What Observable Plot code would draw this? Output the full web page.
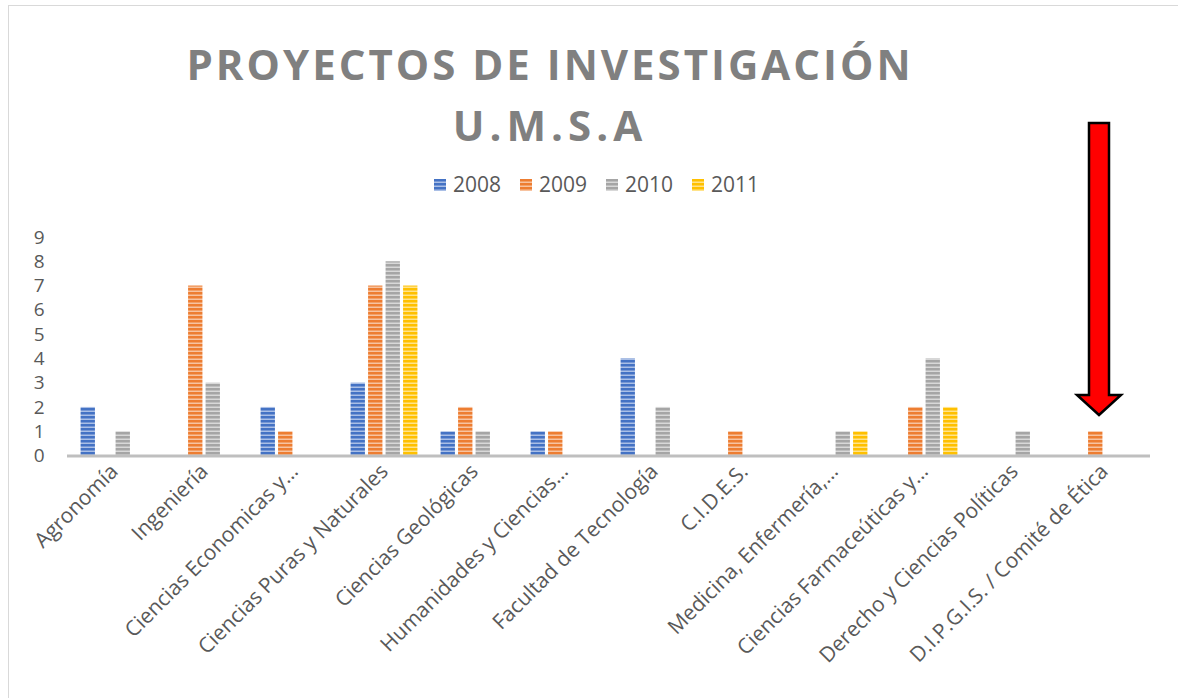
<!DOCTYPE html>
<html><head><meta charset="utf-8">
<script src="https://cdn.jsdelivr.net/npm/d3@7"></script>
<script src="https://cdn.jsdelivr.net/npm/@observablehq/plot@0.6"></script>
<style>
body{margin:0;background:#fff;font-family:"Open Sans",sans-serif;}
#wrap{position:relative;width:1178px;height:698px;overflow:hidden;background:#fff;}
#frame{position:absolute;left:8px;top:5px;width:1300px;height:800px;border:1.5px solid #d9d9d9;}
#title{position:absolute;left:0;width:1100px;top:33px;text-align:center;font-weight:700;font-size:42px;line-height:61px;letter-spacing:3px;color:#808080;}
#title .l2{letter-spacing:5px;}
#legend{position:absolute;left:434px;top:172px;display:flex;font-size:21px;line-height:25px;color:#595959;}
.item{display:flex;align-items:center;margin-right:19px;}
.item svg{margin-right:7px;}
#chart{position:absolute;left:0;top:220px;}
#overlay{position:absolute;left:0;top:0;pointer-events:none;}
</style></head>
<body>
<svg width="0" height="0" style="position:absolute"><defs id="defs"></defs></svg>
<div id="wrap">
  <div id="frame"></div>
  <div id="title">PROYECTOS DE INVESTIGACIÓN<br><span class="l2">U.M.S.A</span></div>
  <div id="legend"></div>
  <div id="chart"></div>
  <svg id="overlay" width="1178" height="698"></svg>
</div>
<script>
const categories = ["Agronomía","Ingeniería","Ciencias Economicas y…","Ciencias Puras y Naturales","Ciencias Geológicas","Humanidades y Ciencias…","Facultad de Tecnología","C.I.D.E.S.","Medicina, Enfermería,…","Ciencias Farmaceúticas y…","Derecho y Ciencias Políticas","D.I.P.G.I.S. / Comité de Ética"];
const years = ["2008","2009","2010","2011"];
const v2008 = [2,0,2,3,1,1,4,0,0,0,0,0];
const v2009 = [0,7,1,7,2,1,0,1,0,2,0,1];
const v2010 = [1,3,0,8,1,0,2,0,1,4,1,0];
const v2011 = [0,0,0,7,0,0,0,0,1,2,0,0];
const yTicks = [0,1,2,3,4,5,6,7,8,9];
const colors = ["#4472c4","#ed7d31","#a5a5a5","#ffc000"];
const lights = ["#aabfe6","#f7c3a0","#d8d8d8","#ffe38a"];
const arrowTarget = "D.I.P.G.I.S. / Comité de Ética";

const series = [v2008, v2009, v2010, v2011];
const rows = [];
years.forEach((y, i) => categories.forEach((c, j) => rows.push({cat: c, year: y, value: series[i][j]})));

// stripe patterns
const defs = d3.select("#defs");
years.forEach((y, i) => {
  const p = defs.append("pattern").attr("id", "pat" + y).attr("patternUnits", "userSpaceOnUse")
    .attr("width", 4).attr("height", 4);
  p.append("rect").attr("width", 4).attr("height", 4).attr("fill", lights[i]);
  p.append("rect").attr("width", 4).attr("height", 2.5).attr("fill", colors[i]);
});

// legend
const legend = d3.select("#legend");
years.forEach((y, i) => {
  const it = legend.append("div").attr("class", "item");
  const s = it.append("svg").attr("width", 12).attr("height", 12);
  s.append("rect").attr("width", 12).attr("height", 12).attr("fill", `url(#pat${y})`);
  it.append("span").text(y);
});

const W = 1178, mL = 67, mR = 28;
const band = (W - mL - mR) / categories.length;
const barW = 14.6, step = 17.5;
const inset = (band - barW) / 2;

const marks = years.map((y, i) => Plot.barY(rows.filter(d => d.year === y && d.value > 0), {
  x: "cat", y: "value", fill: `url(#pat${y})`, dx: (i - 1.5) * step,
  insetLeft: inset, insetRight: inset
}));

const plot = Plot.plot({
  width: W, height: 475,
  marginLeft: mL, marginRight: mR, marginTop: 17, marginBottom: 239.5,
  style: {fontFamily: "Open Sans", fontSize: "19px", color: "#595959", background: "transparent"},
  x: {type: "band", domain: categories, padding: 0},
  y: {domain: [0, 9]},
  marks: [
    ...marks,
    Plot.ruleY([0], {stroke: "#bfbfbf", strokeWidth: 3}),
    Plot.axisY({ticks: yTicks, tickSize: 0, tickPadding: 23, fontSize: 19, label: null}),
    Plot.axisX({tickSize: 0, tickRotate: -45, tickPadding: 12, fontSize: 21, label: null})
  ]
});
document.getElementById("chart").appendChild(plot);

// annotation arrow pointing to the D.I.P.G.I.S. bar
const xs = plot.scale("x"), ys = plot.scale("y");
const top0 = 220;
const cx = xs.apply(arrowTarget) + xs.bandwidth / 2 - 5;
const tipY = top0 + ys.apply(1.67);
const topY = top0 + ys.apply(13.7);
const headY = tipY - 20;
const sw = 10, hw = 22;
d3.select("#overlay").append("polygon")
  .attr("points", [[cx - sw, topY], [cx + sw, topY], [cx + sw, headY], [cx + hw, headY], [cx, tipY], [cx - hw, headY], [cx - sw, headY]].map(p => p.join(",")).join(" "))
  .attr("fill", "#ff0000").attr("stroke", "#000").attr("stroke-width", 2.5).attr("stroke-linejoin", "miter");
</script>
</body></html>
